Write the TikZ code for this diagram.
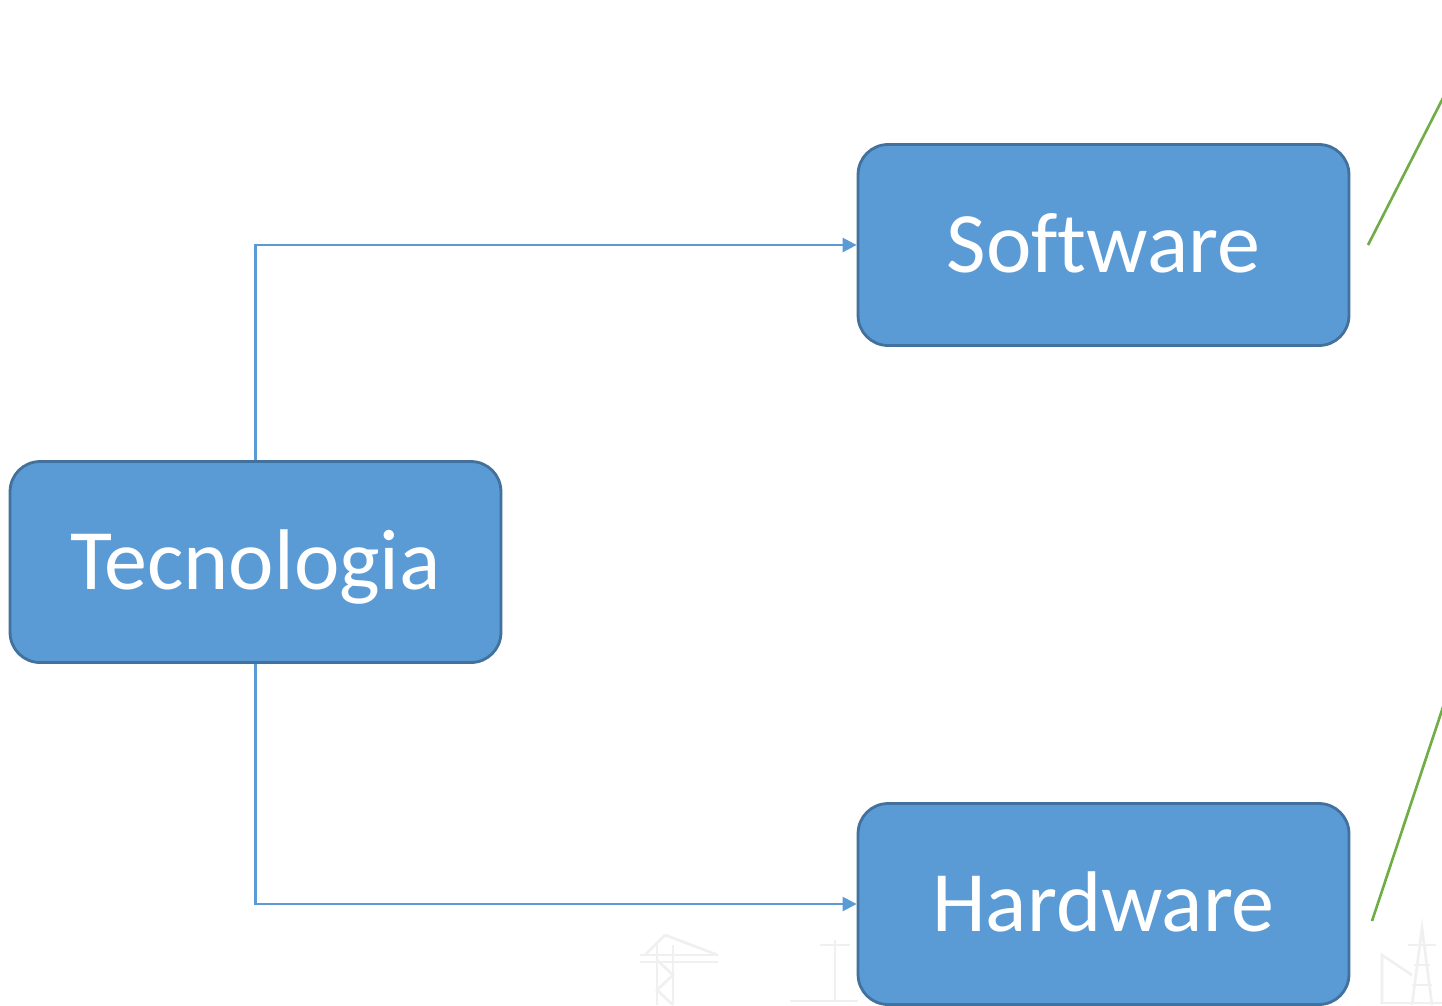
\documentclass[tikz,border=0pt]{standalone}
\usepackage{fontspec}
\setmainfont{Carlito}[Ligatures=NoCommon]
\usetikzlibrary{arrows.meta}
\definecolor{boxfill}{HTML}{5B9BD5}
\definecolor{boxedge}{HTML}{41719C}
\definecolor{leafgreen}{HTML}{70AD47}
\definecolor{ghost}{HTML}{F0F0F0}
\tikzset{
  topic/.style={draw=boxedge, fill=boxfill, line width=1.6pt, rounded corners=0.6cm,
    minimum width=9.82cm, minimum height=4.02cm, text=white,
    font=\fontsize{49}{54}\selectfont, inner sep=0pt,
    text height=31.6pt, text depth=0pt},
  link/.style={draw=boxfill, line width=1.4pt, -{Triangle[length=8pt,width=8pt]}},
  leaf/.style={draw=leafgreen, line width=1.5pt},
  ghostline/.style={draw=ghost, line width=1.5pt}
}
\begin{document}
\begin{tikzpicture}[x=0.02cm, y=-0.02cm]
  \useasboundingbox[fill=white] (0,0) rectangle (1442,1005);

  % faint background drawings: crane, quay and drilling rig
  \begin{scope}[ghostline]
    \draw (657,1005) -- (657,945) (673,1005) -- (673,945);
    \draw (657,960) -- (673,975) -- (657,990) -- (673,1005);
    \draw (640,955) -- (718,955) (640,962) -- (718,962);
    \draw (665,935) -- (645,955) (665,935) -- (718,955);
    \draw (790,1001) -- (858,1001) (835,940) -- (835,1001) (820,945) -- (850,945);
    \draw (1412,1005) -- (1422,928) -- (1432,1005);
    \draw (1408,945) -- (1436,945) (1414,965) -- (1430,965) (1412,985) -- (1432,985);
    \draw (1382,1003) -- (1382,955) -- (1412,975);
    \draw (1380,1003) -- (1442,1003);
  \end{scope}

  \node[topic] (tec) at (255.5,562) {Tecnologia};
  \node[topic] (sw)  at (1103.5,245)  {Software};
  \node[topic] (hw)  at (1103.5,904)  {Hardware};

  \draw[link] (tec.north) |- (sw.west);
  \draw[link] (tec.south) |- (hw.west);

  \coordinate (swa) at (1368,245);
  \coordinate (swb) at (1444,96);
  \coordinate (hwa) at (1372,921);
  \coordinate (hwb) at (1444,704);
  \draw[leaf] (swa) -- (swb);
  \draw[leaf] (hwa) -- (hwb);
\end{tikzpicture}
\end{document}
